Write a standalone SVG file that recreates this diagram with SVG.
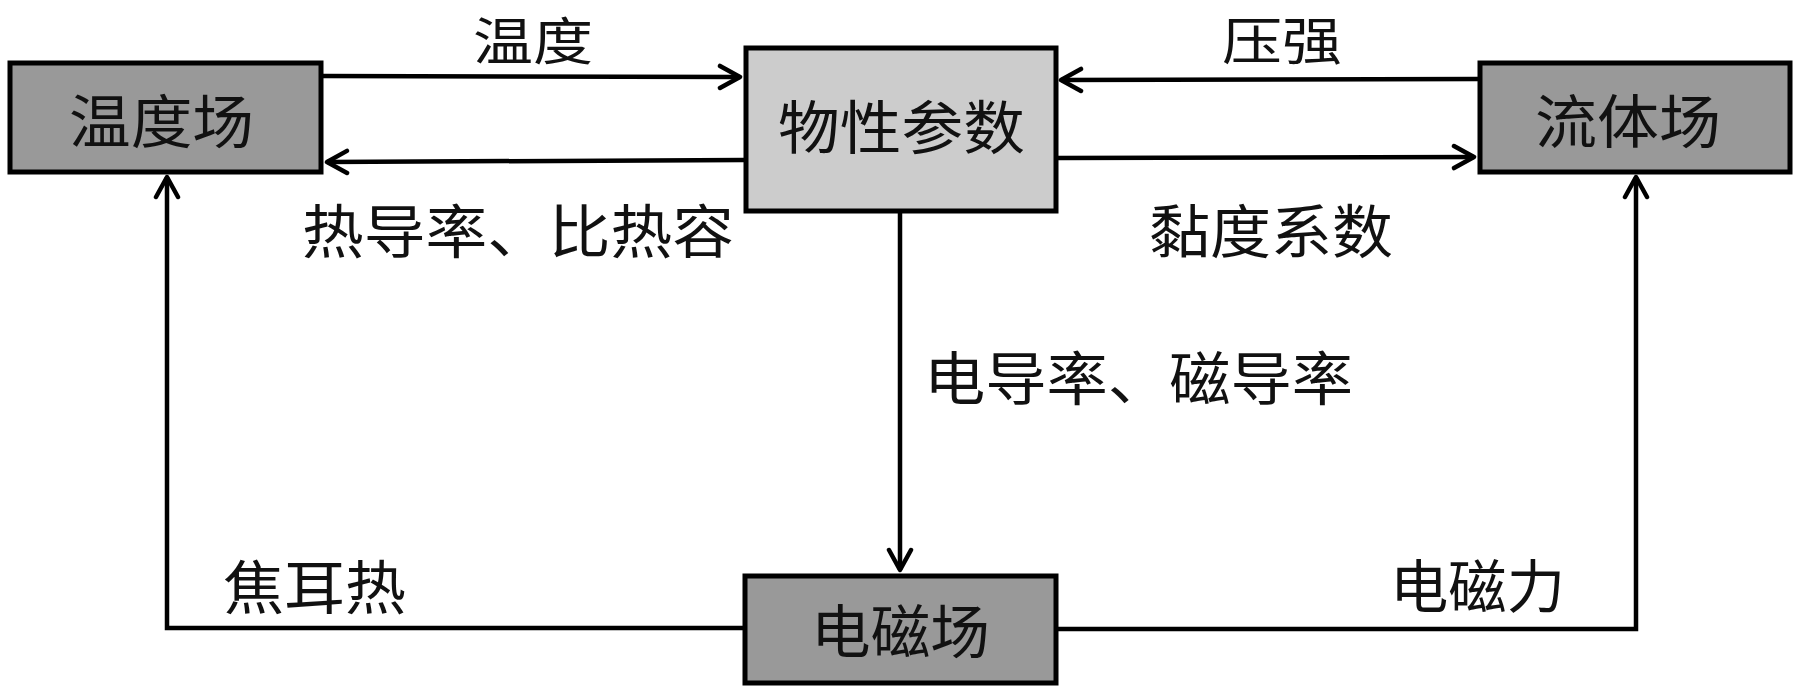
<svg xmlns="http://www.w3.org/2000/svg" width="1800" height="694" viewBox="0 0 1800 694">
<defs>
<style>
.box{stroke:#000;stroke-width:5}
.dark{fill:#999999}
.light{fill:#cccccc}
.t{font-family:"Noto Sans CJK SC","Noto Sans CJK JP",sans-serif;font-size:58px;fill:#111}
.top{font-size:51px}
.c{fill:none;stroke:#000;stroke-width:4.5}
</style>
<marker id="ah" viewBox="-24 -14 28 28" refX="0" refY="0" markerWidth="28" markerHeight="28" markerUnits="userSpaceOnUse" orient="auto">
<path d="M -20 -11 L 0 0 L -20 11" fill="none" stroke="#000" stroke-width="4.5" stroke-linecap="round" stroke-linejoin="round"/>
</marker>
</defs>
<rect width="1800" height="694" fill="#fff"/>
<g id="connectors">
<line class="c" x1="323" y1="76" x2="740" y2="77" marker-end="url(#ah)"/>
<line class="c" x1="744" y1="160" x2="327" y2="162" marker-end="url(#ah)"/>
<line class="c" x1="1478" y1="79" x2="1061" y2="80" marker-end="url(#ah)"/>
<line class="c" x1="1057" y1="158" x2="1474" y2="157" marker-end="url(#ah)"/>
<line class="c" x1="900" y1="212" x2="900" y2="570" stroke-width="3.5" marker-end="url(#ah)"/>
<polyline class="c" points="743,628 167,628 167,177" marker-end="url(#ah)"/>
<polyline class="c" points="1058,629 1636,629 1636,177" marker-end="url(#ah)"/>
<text class="t top" x="473" y="60" textLength="120" lengthAdjust="spacingAndGlyphs">温度</text>
<text class="t" x="302" y="253" textLength="432" lengthAdjust="spacingAndGlyphs">热导率、比热容</text>
<text class="t top" x="1222" y="60" textLength="120" lengthAdjust="spacingAndGlyphs">压强</text>
<text class="t" x="1149" y="253" textLength="244" lengthAdjust="spacingAndGlyphs">黏度系数</text>
<text class="t" x="924" y="400" textLength="429" lengthAdjust="spacingAndGlyphs">电导率、磁导率</text>
<text class="t" x="223" y="609" textLength="183" lengthAdjust="spacingAndGlyphs">焦耳热</text>
<text class="t" x="1390" y="608" textLength="175" lengthAdjust="spacingAndGlyphs">电磁力</text>
</g>
<g id="node-temperature">
<rect class="box dark" x="10" y="63" width="311" height="109"/>
<text class="t" x="69" y="143" textLength="185" lengthAdjust="spacingAndGlyphs">温度场</text>
</g>
<g id="node-properties">
<rect class="box light" x="746" y="48" width="310" height="163"/>
<text class="t" x="778" y="149" textLength="247" lengthAdjust="spacingAndGlyphs">物性参数</text>
</g>
<g id="node-fluid">
<rect class="box dark" x="1480" y="63" width="310" height="109"/>
<text class="t" x="1535" y="143" textLength="186" lengthAdjust="spacingAndGlyphs">流体场</text>
</g>
<g id="node-em">
<rect class="box dark" x="745" y="576" width="311" height="107"/>
<text class="t" x="811" y="653" textLength="179" lengthAdjust="spacingAndGlyphs">电磁场</text>
</g>
</svg>
